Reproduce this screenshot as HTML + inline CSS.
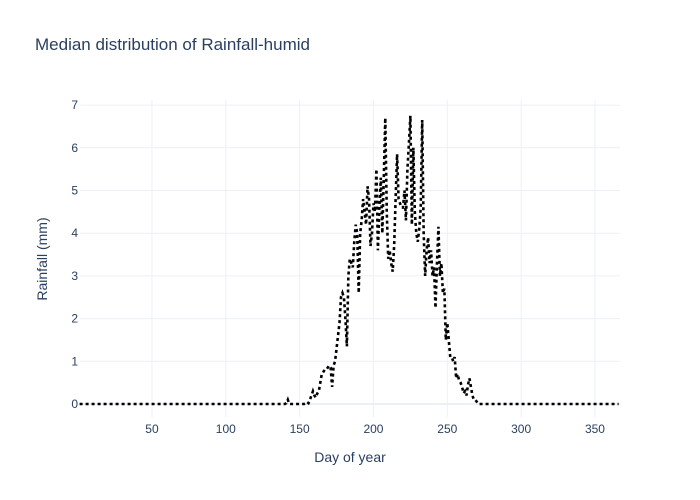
<!DOCTYPE html>
<html><head><meta charset="utf-8"><style>
body{margin:0;background:#fff;}
svg{display:block;font-family:"Liberation Sans",sans-serif;}
</style></head><body>
<svg id="chart" width="700" height="500">
<text x="35" y="50" font-size="17" fill="#2a3f5f">Median distribution of Rainfall-humid</text>
<g id="grid"></g><g id="ticks"></g>
<text x="350" y="462" font-size="14" fill="#2a3f5f" text-anchor="middle">Day of year</text>
<text transform="translate(47,259) rotate(-90)" font-size="14" fill="#2a3f5f" text-anchor="middle">Rainfall (mm)</text>
<path id="line" fill="none" stroke="#000" stroke-width="2.6" stroke-dasharray="3,3"></path>
</svg>
<script>
const xTicks=[50,100,150,200,250,300,350];
const yTicks=[0,1,2,3,4,5,6,7];
const startDay=140;
const rain=[0,0.02,0.1,0,0,0,0,0,0,0,0,0,0,0,0.02,0.05,0.02,0.1,0.2,0.3,0.2,0.15,0.25,0.3,0.5,0.7,0.75,0.8,0.8,0.85,0.9,0.85,0.4,0.9,1.0,1.3,1.6,1.9,2.5,2.6,2.5,2.0,1.35,3.0,3.4,3.3,3.2,3.8,4.2,4.0,2.6,4.0,4.3,4.8,4.5,4.2,5.1,4.8,3.7,4.0,4.7,4.5,5.5,3.6,4.6,5.3,4.0,5.3,6.7,4.5,3.4,3.6,3.3,3.1,3.7,4.8,5.85,4.8,4.7,4.6,4.6,5.0,4.3,5.5,6.1,6.75,4.2,6.0,4.5,4.0,3.8,4.1,4.6,6.65,4.0,3.0,3.6,3.9,3.3,3.6,3.0,3.2,2.25,3.3,4.15,3.0,3.3,2.6,2.7,1.5,1.9,1.5,1.1,1.1,1.0,1.1,0.6,0.7,0.55,0.5,0.4,0.25,0.3,0.2,0.45,0.6,0.4,0.2,0.1,0.1,0.05,0,0];
const xMin=1,xMax=366,yMin=-0.3,yMax=7.2;
const X=d=>79.6+(d-xMin)*(618.6-79.6)/(xMax-xMin);
const Y=v=>404-v*42.7;
const ns="http://www.w3.org/2000/svg";
const grid=document.getElementById('grid'),ticks=document.getElementById('ticks');
xTicks.forEach(t=>{
 const l=document.createElementNS(ns,'line');
 l.setAttribute('x1',X(t));l.setAttribute('x2',X(t));l.setAttribute('y1',100);l.setAttribute('y2',417);
 l.setAttribute('stroke','#ebf0f8');
 
 
 grid.appendChild(l);
 const tx=document.createElementNS(ns,'text');
 tx.setAttribute('x',X(t));tx.setAttribute('y',433);tx.setAttribute('text-anchor','middle');
 tx.setAttribute('font-size','12');tx.setAttribute('fill','#2a3f5f');tx.textContent=t;
 
 
 ticks.appendChild(tx);
});
yTicks.forEach(t=>{
 const l=document.createElementNS(ns,'line');
 l.setAttribute('x1',80);l.setAttribute('x2',620);l.setAttribute('y1',Y(t));l.setAttribute('y2',Y(t));
 l.setAttribute('stroke',t===0?'#ebf0f8':'#ebf0f8');l.setAttribute('stroke-width',t===0?2:1);
 
 
 grid.appendChild(l);
 const tx=document.createElementNS(ns,'text');
 tx.setAttribute('x',78);tx.setAttribute('y',Y(t)+4);tx.setAttribute('text-anchor','end');
 tx.setAttribute('font-size','12');tx.setAttribute('fill','#2a3f5f');tx.textContent=t;
 
 
 ticks.appendChild(tx);
});
let pts=[];
for(let d=1;d<=366;d++){
 const i=d-startDay;
 const v=(i>=0&&i<rain.length)?rain[i]:0;
 pts.push((d===1?'M':'L')+X(d).toFixed(2)+','+Y(v).toFixed(2));
}
document.getElementById('line').setAttribute('d',pts.join(''));
</script>
</body></html>
